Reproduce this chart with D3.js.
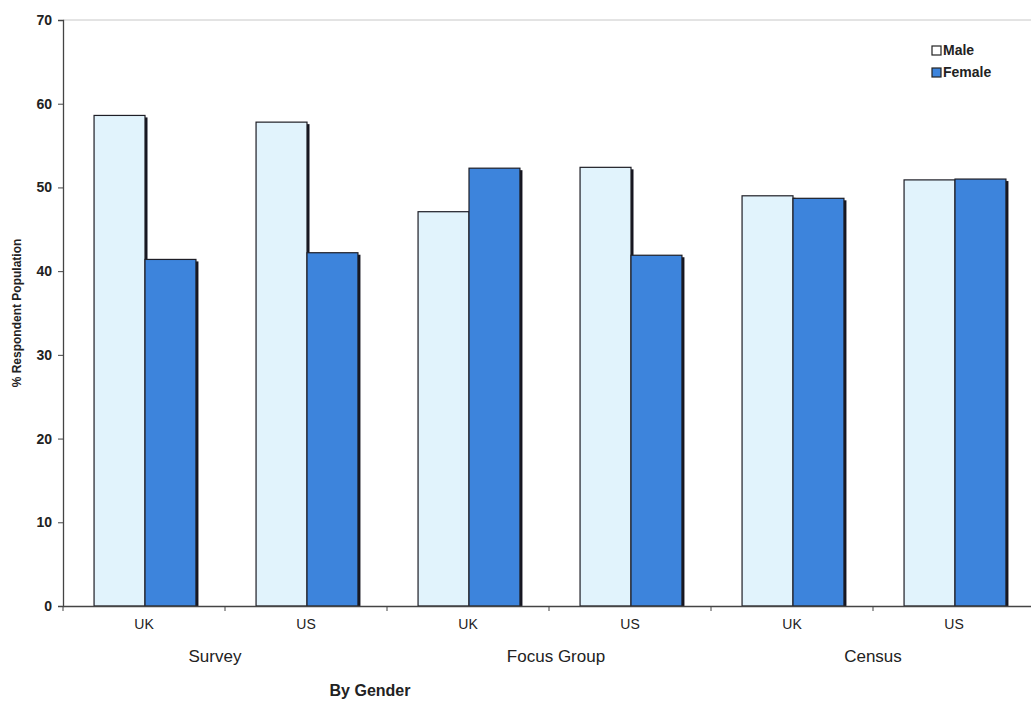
<!DOCTYPE html>
<html>
<head>
<meta charset="utf-8">
<script src="https://cdn.jsdelivr.net/npm/d3@7"></script>
<style>
  html, body { margin: 0; padding: 0; background: #fff; }
  svg { display: block; font-family: Arial, "Liberation Sans", Helvetica, sans-serif; }
</style>
</head>
<body>
<svg id="chart" width="1031" height="702"></svg>
<script>
// Respondent share by gender for each source and country
const groups = ["Survey", "Focus Group", "Census"];
const countries = ["UK", "US"];
const categories = ["Survey|UK", "Survey|US", "Focus Group|UK", "Focus Group|US", "Census|UK", "Census|US"];
const series = ["Male", "Female"];
const maleValues = [58.6, 57.8, 47.1, 52.4, 49.0, 50.9];
const femaleValues = [41.4, 42.2, 52.3, 41.9, 48.7, 51.0];
const yTicks = [0, 10, 20, 30, 40, 50, 60, 70];

const colors = { Male: "#e1f3fc", Female: "#3d84dc" };

const svg = d3.select("#chart");
const margin = { left: 63, top: 20, bottom: 606 };
const plotRight = 1035;

const x = d3.scaleBand().domain(categories).range([margin.left, plotRight]).paddingInner(0).paddingOuter(0);
const xs = d3.scaleBand().domain(series).range([1, x.bandwidth() + 1]).paddingInner(0).paddingOuter(0.59);
const y = d3.scaleLinear().domain([0, 70]).range([margin.bottom, margin.top]);

// top frame line
svg.append("line")
  .attr("x1", margin.left).attr("x2", plotRight)
  .attr("y1", y(70)).attr("y2", y(70))
  .attr("stroke", "#c8c8c8").attr("stroke-width", 1);

// bars
const rows = categories.map((c, i) => ({ cat: c, vals: [
  { s: "Male", v: maleValues[i] }, { s: "Female", v: femaleValues[i] }
]}));

const g = svg.append("g");
const cat = g.selectAll("g.cat").data(rows).join("g")
  .attr("class", "cat")
  .attr("transform", d => `translate(${x(d.cat)},0)`);

// drop shadow behind each bar
cat.selectAll("rect.shadow").data(d => d.vals).join("rect")
  .attr("class", "shadow")
  .attr("x", d => xs(d.s) + 2.5)
  .attr("y", d => y(d.v) + 2)
  .attr("width", xs.bandwidth())
  .attr("height", d => y(0) - y(d.v) - 2)
  .attr("fill", "#151520");

cat.selectAll("rect.bar").data(d => d.vals).join("rect")
  .attr("class", "bar")
  .attr("x", d => xs(d.s))
  .attr("y", d => y(d.v))
  .attr("width", xs.bandwidth())
  .attr("height", d => y(0) - y(d.v))
  .attr("fill", d => colors[d.s])
  .attr("stroke", "#1e1e26")
  .attr("stroke-width", 1.2);

// y axis
const yAxis = d3.axisLeft(y).tickValues(yTicks).tickSize(5).tickPadding(6);
const ya = svg.append("g").attr("transform", `translate(${margin.left},0)`).call(yAxis);
ya.select(".domain").attr("stroke", "#444").attr("stroke-width", 1.3);
ya.selectAll(".tick line").attr("stroke", "#444");
ya.selectAll(".tick text").attr("font-size", 14).attr("font-weight", "bold").attr("fill", "#222")
  .attr("font-family", "Arial, 'Liberation Sans', sans-serif");

// x axis
const xAxis = d3.axisBottom(x).tickSize(0).tickPadding(13).tickFormat(d => d.split("|")[1]);
const xa = svg.append("g").attr("transform", `translate(0,${y(0)})`).call(xAxis);
xa.select(".domain").attr("stroke", "#444").attr("stroke-width", 1.3);
xa.selectAll(".tick text").attr("font-size", 14).attr("fill", "#222")
  .attr("font-family", "Arial, 'Liberation Sans', sans-serif");

// separators between categories
svg.append("g").selectAll("line").data(categories).join("line")
  .attr("x1", d => x(d)).attr("x2", d => x(d))
  .attr("y1", y(0)).attr("y2", y(0) + 5)
  .attr("stroke", "#444");

// group labels
const groupShift = { "Survey": -10, "Focus Group": 7, "Census": 0 };
svg.append("g").selectAll("text").data(groups).join("text")
  .attr("x", grp => {
    const cs = countries.map(c => x(grp + "|" + c) + x.bandwidth() / 2);
    return d3.mean(cs) + groupShift[grp];
  })
  .attr("y", 662)
  .attr("text-anchor", "middle")
  .attr("font-size", 17)
  .attr("fill", "#222")
  .text(d => d);

svg.append("text")
  .attr("x", 370).attr("y", 696)
  .attr("text-anchor", "middle")
  .attr("font-size", 16).attr("font-weight", "bold").attr("fill", "#222")
  .text("By Gender");

svg.append("text")
  .attr("transform", `translate(21,${(y(0) + y(70)) / 2}) rotate(-90)`)
  .attr("text-anchor", "middle")
  .attr("font-size", 12).attr("font-weight", "bold").attr("fill", "#222")
  .text("% Respondent Population");

// legend
const legend = svg.append("g").attr("transform", "translate(932,45)");
const li = legend.selectAll("g").data(series).join("g")
  .attr("transform", (d, i) => `translate(0,${i * 22})`);
li.append("rect")
  .attr("x", 0).attr("y", 1).attr("width", 9).attr("height", 9)
  .attr("fill", d => d === "Male" ? "#ffffff" : colors.Female)
  .attr("stroke", "#222").attr("stroke-width", 1.2);
li.append("text")
  .attr("x", 11).attr("y", 10)
  .attr("font-size", 14).attr("font-weight", "bold").attr("fill", "#222")
  .text(d => d);
</script>
</body>
</html>
